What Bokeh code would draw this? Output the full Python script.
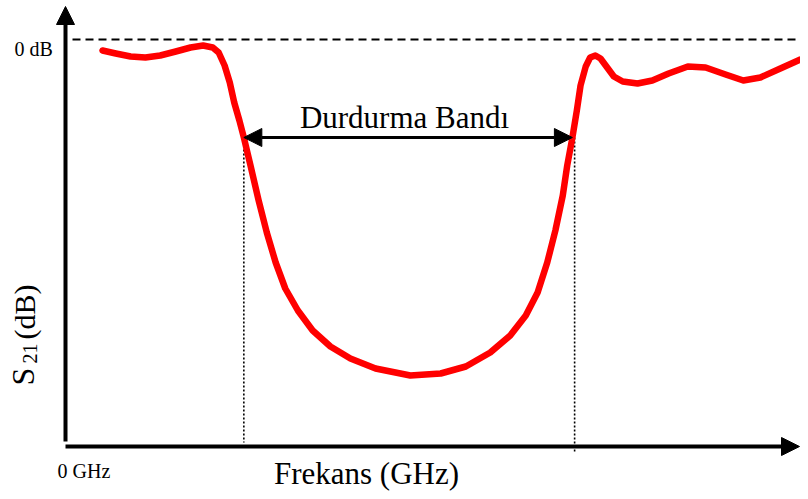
import math
from bokeh.plotting import figure
from bokeh.models import Range1d, Arrow, NormalHead
from bokeh.core.properties import value
from bokeh.embed import file_html
from bokeh.resources import INLINE

# ---- data (frequency in GHz, S21 in dB) ----
freq_ghz = [0.50, 0.68, 0.88, 1.08, 1.28, 1.49, 1.69, 1.86, 1.99, 2.07, 2.15, 2.22, 2.28, 2.35,
            2.41, 2.50, 2.61, 2.72, 2.84, 2.97, 3.14, 3.34, 3.58, 3.85, 4.19, 4.66, 5.07, 5.41,
            5.74, 6.01, 6.22, 6.38, 6.51, 6.62, 6.72, 6.78, 6.85, 6.91, 6.96, 7.03, 7.09, 7.16,
            7.23, 7.31, 7.41, 7.53, 7.73, 7.93, 8.15, 8.41, 8.65, 8.92, 9.16, 9.39, 9.66, 9.93, 10.04]
s21_db = [-1.1, -1.4, -1.7, -1.8, -1.6, -1.2, -0.8, -0.6, -0.8, -1.3, -2.6, -4.3, -6.3, -8.1,
          -9.8, -12.6, -16.1, -19.3, -22.3, -24.9, -27.1, -29.1, -30.7, -31.9, -32.9, -33.6, -33.4, -32.7,
          -31.3, -29.6, -27.6, -25.3, -22.3, -19.1, -15.6, -12.6, -9.8, -7.1, -4.6, -2.7, -1.8, -1.6,
          -1.9, -2.7, -3.7, -4.2, -4.4, -4.1, -3.4, -2.7, -2.8, -3.5, -4.1, -3.8, -2.9, -2.0, -1.7]

band_edges_ghz = [2.41, 6.85]   # stop-band edges
band_level_db = -9.8
ref_level_db = 0.0

# ---- layout helpers (picture pixel -> data) ----
F_PX0, F_SCALE = 65.0, 74.0
DB_PX0, DB_SCALE = 39.0, 10.0
def fx(px):
    return (px - F_PX0) / F_SCALE
def dy(py):
    return -(py - DB_PX0) / DB_SCALE

BL = 0.35  # baseline correction (fraction of font size)

W, H = 800, 491
p = figure(width=W, height=H, output_backend="svg", toolbar_location=None,
           x_range=Range1d(fx(0), fx(W)), y_range=Range1d(dy(H), dy(0)),
           min_border=0, outline_line_color=None, background_fill_color="white")
p.xaxis.visible = False
p.yaxis.visible = False
p.grid.visible = False

serif = value("'Liberation Serif', 'DejaVu Serif', serif")

# reference 0 dB dashed line
p.line([fx(72), fx(810)], [ref_level_db, ref_level_db], line_color="black",
       line_width=2, line_dash="8 5")

# dotted band-edge lines
p.line([band_edges_ghz[0], band_edges_ghz[0]], [band_level_db, dy(442)],
       line_color="black", line_width=1.6, line_dash="2 2")
p.line([band_edges_ghz[1] + 0.03, band_edges_ghz[1] + 0.03], [band_level_db, dy(452)],
       line_color="black", line_width=1.6, line_dash="2 2")

# axes with arrowheads
axis_db = dy(446)
p.add_layout(Arrow(x_start=0, y_start=axis_db, x_end=fx(799), y_end=axis_db,
                   line_width=4, line_color="black",
                   end=NormalHead(size=18, fill_color="black", line_color="black", line_width=1)))
p.add_layout(Arrow(x_start=0, y_start=dy(441), x_end=0, y_end=dy(6),
                   line_width=4, line_color="black",
                   end=NormalHead(size=18, fill_color="black", line_color="black", line_width=1)))

# S21 curve
p.line(freq_ghz, s21_db, line_color="#ff0000", line_width=6.5,
       line_join="round", line_cap="round")

# stop-band double arrow
p.add_layout(Arrow(x_start=band_edges_ghz[0], y_start=band_level_db,
                   x_end=band_edges_ghz[1], y_end=band_level_db,
                   line_width=3, line_color="black",
                   start=NormalHead(size=18, fill_color="black", line_color="black", line_width=1),
                   end=NormalHead(size=18, fill_color="black", line_color="black", line_width=1)))

def htext(px, baseline_py, txt, size, align):
    p.text(x=[fx(px)], y=[dy(baseline_py - BL * size)], text=[txt], text_font=serif,
           text_font_size=f"{size}px", text_align=align, text_baseline="alphabetic",
           text_color="black")

def vtext(baseline_px, start_py, txt, size):
    p.text(x=[fx(baseline_px - BL * size)], y=[dy(start_py)], text=[txt], text_font=serif,
           text_font_size=f"{size}px", angle=math.pi / 2, text_align="left",
           text_baseline="alphabetic", text_color="black")

htext(404, 128, "Durdurma Bandı", 31, "center")
htext(14, 55, "0 dB", 20, "left")
htext(57, 477, "0 GHz", 20, "left")
htext(366, 484, "Frekans (GHz)", 31, "center")

# rotated y label: S, subscript 21, (dB)
vtext(34, 385, "S", 32)
vtext(36, 363, "21", 20)
vtext(34, 339, "(dB)", 30)

open("out.html", "w").write(file_html(p, INLINE))
